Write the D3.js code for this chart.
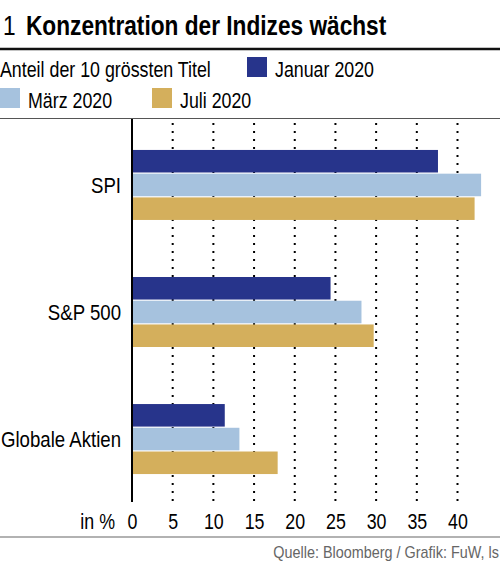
<!DOCTYPE html>
<html>
<head>
<meta charset="utf-8">
<script src="https://cdn.jsdelivr.net/npm/d3@7"></script>
<style>
  html, body { margin: 0; padding: 0; background: #fff; }
  svg { display: block; font-family: "Liberation Sans", Arial, sans-serif; }
</style>
</head>
<body>
<div id="chart"></div>
<script>
// Anteil der 10 grössten Titel, in %
const categories = ["SPI", "S&P 500", "Globale Aktien"];
const seriesNames = ["Januar 2020", "März 2020", "Juli 2020"];
const januar = [37.6, 24.4, 11.4];
const maerz = [42.9, 28.2, 13.2];
const juli = [42.1, 29.7, 17.9];
const xTicks = [0, 5, 10, 15, 20, 25, 30, 35, 40];

const colors = ["#27348b", "#a6c2de", "#d4af5c"];
const values = [januar, maerz, juli];

const svgWidth = 500, svgHeight = 563;
const squeeze = 0.81; // narrow the glyphs like a condensed font

const svg = d3.select("#chart")
  .append("svg")
  .attr("width", svgWidth)
  .attr("height", svgHeight);

// rows: one object per category with its three values
const rows = categories.map(function(c, i) {
  return { cat: c, vals: seriesNames.map(function(s, j) { return { name: s, value: values[j][i], color: colors[j] }; }) };
});

const plotTop = 119, plotBottom = 502;
const x = d3.scaleLinear().domain([0, 40]).range([132, 457.5]);
const y = d3.scaleBand().domain(categories).range([122, 502]).paddingInner(0.449).paddingOuter(0.22);
const ySub = d3.scaleBand().domain(seriesNames).range([0, y.bandwidth()]).paddingInner(0.05);

// title
svg.append("text").attr("class", "cond")
  .attr("x", 3).attr("y", 35)
  .style("font-size", "28px")
  .text("1");
svg.append("text").attr("class", "cond")
  .attr("x", 26).attr("y", 35)
  .style("font-size", "28px").style("font-weight", "bold")
  .text("Konzentration der Indizes wächst");
svg.append("line")
  .attr("x1", 0).attr("x2", svgWidth).attr("y1", 49).attr("y2", 49)
  .attr("stroke", "#111").attr("stroke-width", 2.5);

// legend
svg.append("text").attr("class", "cond")
  .attr("x", 0).attr("y", 77)
  .style("font-size", "22px")
  .text("Anteil der 10 grössten Titel");

const legendPos = [[247, 57], [0, 88], [152, 88]];
const legend = svg.selectAll(".legend")
  .data(seriesNames)
  .enter().append("g")
  .attr("class", "legend")
  .attr("transform", function(d, i) { return "translate(" + legendPos[i][0] + "," + legendPos[i][1] + ")"; });
legend.append("rect")
  .attr("width", 20).attr("height", 20)
  .attr("fill", function(d, i) { return colors[i]; });
legend.append("text").attr("class", "cond")
  .attr("x", 28).attr("y", 20)
  .style("font-size", "22px")
  .text(function(d) { return d; });

svg.append("line")
  .attr("x1", 0).attr("x2", svgWidth).attr("y1", 118.5).attr("y2", 118.5)
  .attr("stroke", "#555").attr("stroke-width", 1.2);

// dotted grid
svg.selectAll(".grid")
  .data(xTicks.slice(1))
  .enter().append("line")
  .attr("class", "grid")
  .attr("x1", function(d) { return x(d); }).attr("x2", function(d) { return x(d); })
  .attr("y1", 123).attr("y2", plotBottom)
  .attr("stroke", "#000").attr("stroke-width", 2)
  .attr("stroke-dasharray", "2,6");

// bars
const groups = svg.selectAll(".group")
  .data(rows)
  .enter().append("g")
  .attr("class", "group")
  .attr("transform", function(d) { return "translate(0," + y(d.cat) + ")"; });

groups.selectAll("rect")
  .data(function(d) { return d.vals; })
  .enter().append("rect")
  .attr("x", x(0))
  .attr("y", function(d) { return ySub(d.name); })
  .attr("width", function(d) { return x(d.value) - x(0); })
  .attr("height", ySub.bandwidth())
  .attr("fill", function(d) { return d.color; });

groups.append("text").attr("class", "cond")
  .attr("x", 121)
  .attr("y", y.bandwidth() / 2)
  .attr("dy", "0.36em")
  .attr("text-anchor", "end")
  .style("font-size", "23px")
  .text(function(d) { return d.cat; });

// value axis
svg.append("line")
  .attr("x1", x(0)).attr("x2", x(0)).attr("y1", plotTop).attr("y2", plotBottom)
  .attr("stroke", "#000").attr("stroke-width", 2);

const xAxis = svg.append("g")
  .attr("transform", "translate(0," + 508 + ")")
  .call(d3.axisBottom(x).tickValues(xTicks).tickSize(0).tickPadding(0));
xAxis.select(".domain").remove();
xAxis.selectAll("text")
  .attr("class", "cond")
  .attr("dy", "0.95em")
  .style("font-size", "22px")
  .style("font-family", "Liberation Sans, Arial, sans-serif")
  .attr("fill", "#000");

svg.append("text").attr("class", "cond")
  .attr("x", 115).attr("y", 529)
  .attr("text-anchor", "end")
  .style("font-size", "22px")
  .text("in %");

// footer
svg.append("line")
  .attr("x1", 0).attr("x2", svgWidth).attr("y1", 537).attr("y2", 537)
  .attr("stroke", "#666").attr("stroke-width", 1.2);
svg.append("text").attr("class", "cond wide")
  .attr("x", 499).attr("y", 558)
  .attr("text-anchor", "end")
  .style("font-size", "16px")
  .attr("fill", "#666")
  .text("Quelle: Bloomberg / Grafik: FuW, ls");

// condense every text: squeeze horizontally around its anchor point
svg.selectAll("text.cond").each(function() {
  const t = d3.select(this);
  const f = t.classed("wide") ? 0.9 : squeeze;
  const tx = +t.attr("x") || 0, ty = +t.attr("y") || 0;
  t.attr("x", 0).attr("y", 0)
    .attr("transform", "translate(" + tx + "," + ty + ") scale(" + f + ",1)");
});
</script>
</body>
</html>
